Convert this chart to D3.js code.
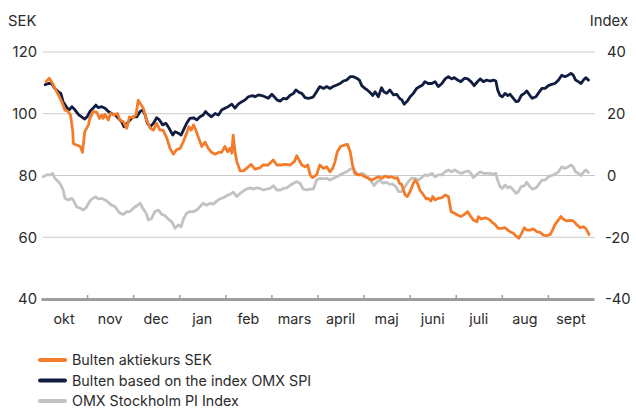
<!DOCTYPE html>
<html><head><meta charset="utf-8">
<script src="https://cdn.jsdelivr.net/npm/d3@7"></script>
<style>
html,body{margin:0;padding:0;background:#fff;}
svg{display:block;font-family:Inter,Lato,"Noto Sans",sans-serif;}
</style></head>
<body><svg id="c" width="636" height="408"></svg>
<script>
// ---- data ----
const months = ["okt","nov","dec","jan","feb","mars","april","maj","juni","juli","aug","sept"];
const leftTicks = [40,60,80,100,120];
const rightTicks = [-40,-20,0,20,40];
const seriesNames = ["Bulten aktiekurs SEK","Bulten based on the index OMX SPI","OMX Stockholm PI Index"];

// time in months since start of October
const tOrange = [0.11,0.18,0.27,0.38,0.45,0.52,0.59,0.64,0.69,0.70,0.77,0.85,0.90,0.95,1.03,1.06,1.13,1.21,1.27,1.32,1.35,1.39,1.46,1.51,1.58,1.66,1.71,1.79,1.86,1.92,1.99,2.06,2.11,2.15,2.22,2.29,2.37,2.44,2.51,2.58,2.65,2.73,2.80,2.87,2.94,3.02,
3.09,3.16,3.21,3.26,3.31,3.36,3.41,3.49,3.56,3.63,3.70,3.78,3.85,3.92,3.99,4.05,4.10,4.14,4.17,4.21,4.25,4.32,4.39,4.46,4.56,4.64,4.75,4.82,4.93,5.04,5.12,5.21,5.30,5.40,5.50,5.55,5.60,5.66,5.73,5.79,5.84,5.89,
5.98,6.05,6.13,6.20,6.27,6.33,6.38,6.43,6.50,6.60,6.65,6.71,6.76,6.81,6.89,6.96,7.03,7.10,7.18,7.25,7.32,7.39,7.47,7.54,7.61,7.68,7.73,7.78,7.83,7.90,7.95,8.01,8.08,8.12,8.17,8.22,8.30,8.36,8.40,8.46,8.50,8.55,8.62,8.70,8.77,8.84,
8.90,8.97,9.04,9.11,9.19,9.26,9.31,9.38,9.46,9.49,9.56,9.64,9.71,9.78,9.85,9.92,10.00,10.07,10.13,10.18,10.25,10.32,10.37,10.43,10.49,10.54,10.61,10.68,10.76,10.83,10.90,10.97,11.05,11.10,11.15,11.23,11.28,11.33,11.41,11.48,11.55,11.63,11.70,11.77,11.82,11.86,11.89];
// SEK, left axis
const orange = [110.4,111.5,109.3,106,103.9,101.2,100.7,99.6,94.2,90.4,89.9,89.4,87.5,94.2,96.4,98.5,100.7,100.5,98.5,99.6,98.5,99.8,98,100.1,99.6,100.1,98,97.4,95.3,99,98.7,99.6,104.4,103.4,101.8,98,95.3,94.7,96.9,94.7,94.7,92.1,88.8,86.9,88.3,88.8,
91,93.7,95.8,94.7,96.4,94.7,92.6,89.4,90.8,88.8,87.5,86.9,87.5,87.5,89.4,87.7,88.8,87.2,93.1,87.7,84.5,81.5,81.5,82.3,83.6,82.1,82.5,83.4,83.4,85,83.4,83.4,83.6,83.4,84.5,86.4,85,83.4,82.8,83.4,80.2,79.3,
80.2,83.4,82.3,82.8,81.2,82.3,84.5,87.7,89.4,89.9,90.1,87.7,83.4,80.7,80.2,80.2,79.6,79.1,78.5,79.1,79.6,79.1,79.8,79.4,79.6,79.1,79.3,77.5,77,73.7,73.2,74.8,77.5,78.5,77.5,75.3,73.7,72.4,72.6,71.7,73.2,72.1,72.6,72.8,73.7,73.2,
68.3,67.8,67.2,66.7,67.4,68.3,67,65.6,65,66.7,65.9,66.3,65.9,65,64.2,62.9,62.9,63.1,62.3,61.8,61.3,60.2,59.7,61.3,63.1,62.3,62.3,62.7,61.8,61.6,60.7,60.5,60.9,62.3,64,65.6,66.7,65.9,65.3,65.5,65.3,64,63.1,63.4,62.9,61.8,60.9];

const tDark = [0.09,0.16,0.23,0.30,0.38,0.43,0.48,0.56,0.61,0.67,0.74,0.81,0.88,0.95,1.00,1.06,1.13,1.19,1.24,1.32,1.39,1.46,1.53,1.61,1.68,1.75,1.80,1.87,1.93,2.00,2.08,2.15,2.21,2.26,2.31,2.37,2.44,2.51,2.57,2.64,2.71,2.78,2.86,2.91,2.98,
3.04,3.09,3.16,3.23,3.31,3.38,3.45,3.52,3.57,3.63,3.70,3.78,3.85,3.92,3.99,4.06,4.14,4.21,4.28,4.36,4.43,4.50,4.59,4.64,4.72,4.79,4.86,4.93,5.01,5.06,5.12,5.19,5.26,5.33,5.40,5.48,5.53,5.60,5.66,5.73,5.80,5.87,
5.91,5.98,6.05,6.13,6.20,6.27,6.34,6.42,6.49,6.56,6.63,6.71,6.78,6.85,6.91,6.96,7.03,7.08,7.14,7.20,7.25,7.32,7.39,7.44,7.50,7.57,7.65,7.72,7.78,7.83,7.88,7.95,8.01,8.08,8.15,8.22,8.28,8.33,8.40,8.48,8.55,8.62,8.70,
8.77,8.84,8.91,8.97,9.04,9.11,9.19,9.26,9.33,9.40,9.46,9.53,9.60,9.67,9.74,9.82,9.87,9.91,9.96,10.01,10.07,10.13,10.18,10.25,10.31,10.36,10.42,10.49,10.54,10.61,10.66,10.74,10.79,10.87,10.94,11.01,11.08,11.15,11.23,11.30,11.37,11.44,11.50,11.55,11.60,11.66,11.72,11.77,11.82,11.88];
// Index, right axis
const dark = [29.4,29.8,29.8,28.2,27.1,26.6,23.9,22,21.2,22.3,21.2,19.8,19,18.3,19,20.7,21.8,22.8,22,22.3,21.8,20.7,20.1,19.6,18.5,17.4,15.8,16.9,18,19,19,20.7,21.2,19.6,16.9,15.8,16.9,18.7,18,16.4,16.9,15.3,13.1,14.2,13.7,
13.1,14.7,16.9,18.5,18.7,18,19,19.6,20.7,19.8,19,20.1,19.6,21.2,21.8,22.3,23.1,21.8,23.1,23.9,24.5,25.5,25.9,25.5,26.1,25.9,25.5,25,26.3,25.5,24.5,24.1,25,24.8,25.9,26.6,27.7,26.9,26.6,25.2,25,25.2,
25.5,27.1,28.8,28.2,28.8,28.2,28.8,29.3,29.8,30.6,30.9,32,32,31.5,30.9,29.1,28.2,27.7,26.9,25.9,27.1,25.5,28.4,27.1,26.6,27.7,26.1,26.3,25,24.5,23.1,24.1,25.5,26.6,28.2,28.8,29.3,30.4,29.8,29.8,30.4,28.8,29.8,
31.3,32,31.3,31.7,30.9,30.4,31.5,31.3,30.4,29.1,30.2,31.3,30.4,30.9,30.6,30.9,30.6,27.7,25.9,25.5,26.6,25.9,26.3,25,23.9,24.1,25.9,26.6,27.4,25.9,25,25.5,26.6,28.2,28.2,29.1,29.5,29.8,30.9,32.5,32,32.5,33.1,32.5,30.9,30.4,29.8,30.9,31.7,30.9];

const tGray = [0.05,0.12,0.20,0.25,0.30,0.38,0.43,0.48,0.52,0.59,0.67,0.72,0.77,0.85,0.92,0.98,1.03,1.08,1.13,1.19,1.24,1.32,1.39,1.46,1.53,1.61,1.66,1.71,1.79,1.86,1.93,2.00,2.08,2.15,2.21,2.28,2.33,2.40,2.47,2.55,2.62,2.69,2.76,2.84,2.91,2.98,
3.04,3.09,3.16,3.23,3.31,3.38,3.45,3.52,3.60,3.67,3.74,3.81,3.88,3.96,4.03,4.10,4.17,4.25,4.32,4.39,4.46,4.54,4.61,4.68,4.75,4.82,4.90,4.97,5.04,5.12,5.19,5.26,5.33,5.40,5.48,5.55,5.62,5.69,5.77,5.84,5.91,
5.98,6.05,6.13,6.20,6.27,6.34,6.42,6.49,6.56,6.63,6.71,6.77,6.81,6.89,6.96,7.03,7.10,7.18,7.23,7.29,7.36,7.42,7.49,7.56,7.63,7.70,7.76,7.83,7.90,7.97,8.04,8.12,8.19,8.26,8.33,8.40,8.48,8.55,8.62,8.70,
8.77,8.84,8.91,8.98,9.06,9.13,9.20,9.27,9.33,9.38,9.46,9.53,9.60,9.67,9.74,9.82,9.87,9.91,9.96,10.01,10.07,10.13,10.18,10.25,10.31,10.36,10.42,10.49,10.54,10.61,10.66,10.74,10.79,10.87,10.94,11.01,11.08,11.15,11.23,11.30,11.37,11.44,11.50,11.55,11.60,11.66,11.72,11.77,11.82,11.88];
const gray = [-0.4,0.2,0.2,0.7,-0.9,-2,-3.1,-4.7,-7.4,-7.9,-7.4,-8.5,-10.1,-10.6,-11.2,-10.4,-9,-7.9,-7.4,-6.9,-7.6,-7.4,-7.9,-8.7,-9.6,-10.1,-11.2,-12.2,-12.6,-11.7,-11.7,-10.6,-9.8,-9,-10.6,-12.2,-14.4,-13.9,-11.7,-11.2,-12.6,-13,-14.1,-15,-17.1,-16,
-16.6,-14.1,-12.2,-11.7,-11.7,-11.2,-10.1,-9,-9.6,-9,-9.3,-8.3,-7.6,-7.2,-6.5,-6.1,-5.4,-6.8,-5.8,-5,-4.4,-4,-4.4,-4,-4.2,-4.7,-4.4,-4.2,-3.3,-4.7,-4.7,-4.2,-4,-3.3,-2.5,-2,-2.5,-4.4,-4.7,-4.4,-4.4,
-1.5,-0.9,-1.1,-0.9,-1.5,-0.9,-0.4,0.2,0.7,1.2,2.1,2.3,1.5,0.2,0.7,0.2,-0.7,-2.2,-3.3,-2,-1.5,-2.5,-2.2,-2.8,-2.8,-3.6,-5.2,-5.2,-3.6,-2,-0.9,-0.9,-1.5,-0.7,0.2,0,0.7,-0.4,0.2,0.2,
1.2,1.8,1.2,1.8,1,0.7,1.2,1.5,0.7,-0.7,0.4,1.2,0.7,0.7,0.7,0.4,0.7,-1.5,-3.6,-4.2,-3.1,-4,-3.6,-4.7,-5.8,-5.2,-3.6,-3.3,-2.2,-3.6,-4.4,-4,-3.1,-1.5,-1.5,-0.4,0,0.4,1.2,2.8,2.3,2.8,3.4,2.8,1.2,0.7,0,1,1.8,1];

// ---- layout ----
const colors = {orange:"#f47b2a", dark:"#111d40", gray:"#c2c2c2"};
const svg = d3.select("#c");
const L = 41, R = 594, T = 52, B = 299;
const x = d3.scaleLinear().domain([0, months.length]).range([L, R]);
const yL = d3.scaleLinear().domain([40,120]).range([B, T]);
const yR = d3.scaleLinear().domain([-40,40]).range([B, T]);
const txt = "#2b2b2b";

// gridlines
svg.append("g").selectAll("line").data(leftTicks.filter(d => d !== 40)).join("line")
  .attr("x1", L + 2).attr("x2", R + 1)
  .attr("y1", d => yL(d)).attr("y2", d => yL(d))
  .attr("stroke", "#c9c9c9").attr("stroke-width", 1.2);

// left labels
svg.append("g").selectAll("text").data(leftTicks).join("text")
  .attr("x", 37).attr("y", d => yL(d) + 5.3)
  .attr("text-anchor", "end").attr("font-size", 14.8).attr("fill", txt).text(d => d);
// right labels
svg.append("g").selectAll("text").data(rightTicks).join("text")
  .attr("x", d => d < 0 ? 605 : 607).attr("y", d => yR(d) + 5.3)
  .attr("text-anchor", "start").attr("font-size", 14.8).attr("fill", txt).text(d => d);
svg.append("text").attr("x", 8).attr("y", 26).attr("font-size", 14.8).attr("fill", txt).text("SEK");
svg.append("text").attr("x", 628).attr("y", 26).attr("text-anchor", "end").attr("font-size", 14.8).attr("fill", txt).text("Index");

// x axis
const xAxis = d3.axisBottom(x).tickValues(d3.range(1, months.length)).tickSize(-4).tickFormat("").tickSizeOuter(0);
const gx = svg.append("g").attr("transform", `translate(0,${B})`).call(xAxis);
gx.select(".domain").attr("stroke", "#9d9d9d").attr("stroke-width", 2.8);
gx.selectAll(".tick line").attr("stroke", "#9d9d9d").attr("stroke-width", 1.5);
svg.append("g").selectAll("text").data(months).join("text")
  .attr("x", (d, i) => x(i + 0.5)).attr("y", 324)
  .attr("text-anchor", "middle").attr("font-size", 14.3).attr("fill", txt).text(d => d);

// lines
function draw(ts, vs, ys, color) {
  const pts = ts.map((t, i) => [t, vs[i]]);
  svg.append("path").datum(pts)
    .attr("fill", "none").attr("stroke", color).attr("stroke-width", 2.8)
    .attr("stroke-linejoin", "round").attr("stroke-linecap", "round")
    .attr("d", d3.line().x(d => x(d[0])).y(d => ys(d[1])));
}
draw(tGray, gray, yR, colors.gray);
draw(tDark, dark, yR, colors.dark);
draw(tOrange, orange, yL, colors.orange);

// legend
const legColors = [colors.orange, colors.dark, colors.gray];
const lg = svg.append("g").selectAll("g").data(seriesNames).join("g")
  .attr("transform", (d, i) => `translate(40,${360 + i * 20.5})`);
lg.append("line").attr("x1", 0).attr("x2", 25).attr("stroke", (d, i) => legColors[i])
  .attr("stroke-width", 4).attr("stroke-linecap", "round");
lg.append("text").attr("x", 32).attr("y", 5).attr("font-size", 14.3).attr("fill", txt).text(d => d);
</script></body></html>
